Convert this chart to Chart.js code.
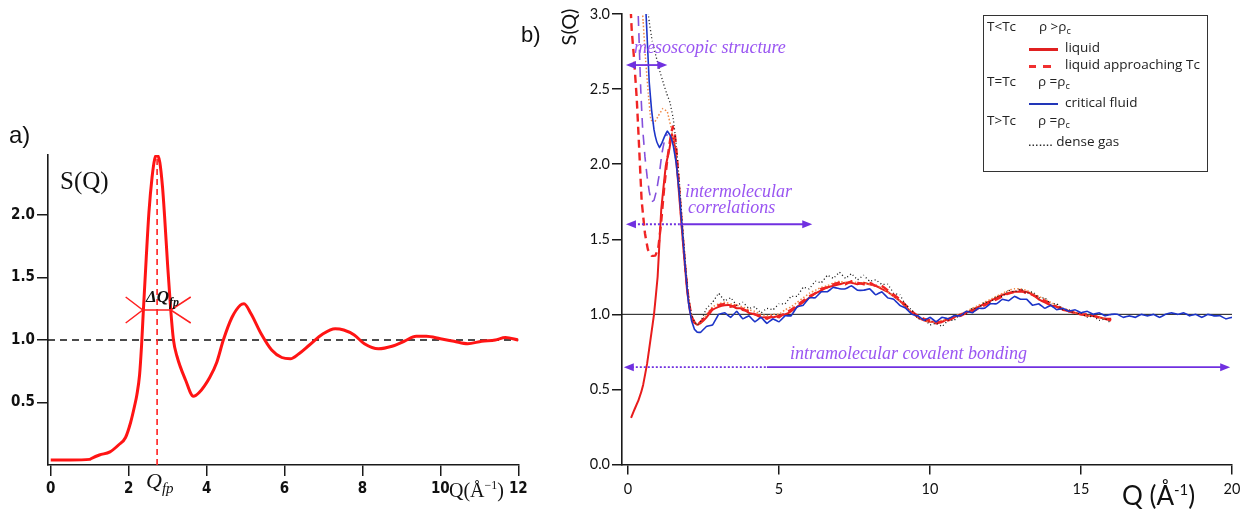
<!DOCTYPE html>
<html>
<head>
<meta charset="utf-8">
<title>S(Q)</title>
<script src="https://cdn.jsdelivr.net/npm/chart.js@4.4.0/dist/chart.umd.min.js"></script>
<style>
  body { margin: 0; background: #fff; }
  #wrap { position: relative; width: 1260px; height: 514px; overflow: hidden; background: #fff; }
  canvas { position: absolute; top: 0; }
  #panelA { left: 0; }
  #panelB { left: 540px; }
  .t { position: absolute; white-space: nowrap; line-height: 1; color: #111; }
  .serif { font-family: 'Liberation Serif', 'DejaVu Serif', serif; }
  .sans { font-family: Lato, 'Liberation Sans', sans-serif; }
  .note { font-family: 'Liberation Serif', serif; font-style: italic; color: #9a55f2; font-size: 18px; }
  .leg { position: absolute; white-space: nowrap; line-height: 1; font-family: 'Open Sans', 'DejaVu Sans', sans-serif; font-size: 13.5px; color: #222; }
  .leg sub { font-size: 9px; vertical-align: -3px; }
  #legendBox { position: absolute; left: 983px; top: 15px; width: 225px; height: 157px; box-sizing: border-box; border: 1.5px solid #333; }
  .swatch { position: absolute; height: 0; }
</style>
</head>
<body>
<div id="wrap">
  <canvas id="panelA" width="540" height="514"></canvas>
  <canvas id="panelB" width="720" height="514"></canvas>

  <!-- panel a labels -->
  <div class="t" style="left:9px; top:123px; font-family:'Liberation Sans', sans-serif; font-size:24px;">a)</div>
  <div class="t serif" style="left:60px; top:168px; font-size:25px;">S(Q)</div>
  <div class="t serif" style="left:146px; top:288px; font-size:17px; font-style:italic; font-weight:bold;">ΔQ<sub style="font-size:12px;">fp</sub></div>
  <div class="t serif" style="left:146px; top:470px; font-size:22px; font-style:italic;">Q<sub style="font-size:15px;">fp</sub></div>
  <div class="t serif" style="left:449px; top:479px; font-size:20px;">Q(Å<sup style="font-size:12px;">−1</sup>)</div>

  <!-- panel b labels -->
  <div class="t" style="left:521px; top:24px; font-family:'Liberation Sans', sans-serif; font-size:22px;">b)</div>
  <div class="t sans" style="left:568px; top:27px; font-size:20px; transform:translate(-50%,-50%) rotate(-90deg);">S(Q)</div>
  <div class="t sans" style="left:1122px; top:482px; font-size:26px;">Q (Å<sup style="font-size:15px;">-1</sup>)</div>
  <div class="t note" style="left:634px; top:38px;">mesoscopic structure</div>
  <div class="t note" style="left:685px; top:182px;">intermolecular</div>
  <div class="t note" style="left:688px; top:198px;">correlations</div>
  <div class="t note" style="left:790px; top:344px;">intramolecular covalent bonding</div>

  <!-- panel b legend -->
  <div id="legendBox"></div>
  <div class="leg" style="left:987px; top:20px;">T&lt;Tc</div>
  <div class="leg" style="left:1039px; top:20px;">ρ &gt;ρ<sub>c</sub></div>
  <div class="swatch" style="left:1029px; top:48px; width:29px; border-top:3px solid #e02020;"></div>
  <div class="leg" style="left:1065px; top:41px;">liquid</div>
  <div class="swatch" style="left:1029px; top:65px; width:7px; border-top:3px solid #f03030;"></div>
  <div class="swatch" style="left:1043px; top:65px; width:8px; border-top:3px solid #f03030;"></div>
  <div class="leg" style="left:1065px; top:58px;">liquid approaching Tc</div>
  <div class="leg" style="left:987px; top:75px;">T=Tc</div>
  <div class="leg" style="left:1038px; top:75px;">ρ =ρ<sub>c</sub></div>
  <div class="swatch" style="left:1029px; top:103px; width:29px; border-top:2px solid #2236b8;"></div>
  <div class="leg" style="left:1065px; top:96px;">critical fluid</div>
  <div class="leg" style="left:987px; top:114px;">T&gt;Tc</div>
  <div class="leg" style="left:1038px; top:114px;">ρ =ρ<sub>c</sub></div>
  <div class="leg" style="left:1028px; top:135px;">....... dense gas</div>
</div>

<script>
// ---- panel (a): model structure factor of a simple liquid ----
const qModel = [0, 0.5, 1.0, 1.03, 1.25, 1.52, 1.74, 1.92, 2.05, 2.15, 2.21, 2.28, 2.33, 2.38, 2.45, 2.52, 2.6, 2.67, 2.73, 2.8, 2.87, 2.92, 3.0, 3.08, 3.15, 3.24, 3.46, 3.66, 3.81, 4.08, 4.26, 4.43, 4.65, 4.87, 4.96, 5.14, 5.4, 5.67, 5.93, 6.15, 6.37, 6.64, 6.99, 7.3, 7.52, 7.79, 8.05, 8.41, 8.76, 9.07, 9.38, 9.64, 10.0, 10.35, 10.7, 11.06, 11.41, 11.67, 12.0];
const sModel = [0.04, 0.04, 0.045, 0.05, 0.08, 0.105, 0.16, 0.22, 0.34, 0.47, 0.56, 0.72, 0.95, 1.25, 1.65, 2.02, 2.3, 2.45, 2.48, 2.42, 2.22, 2.0, 1.6, 1.24, 1.0, 0.87, 0.68, 0.55, 0.58, 0.7, 0.82, 1.0, 1.18, 1.28, 1.29, 1.21, 1.05, 0.92, 0.86, 0.85, 0.89, 0.96, 1.05, 1.09, 1.08, 1.04, 0.97, 0.93, 0.95, 0.99, 1.03, 1.03, 1.01, 0.99, 0.97, 0.99, 1.0, 1.02, 1.0];
const qFirstPeak = 2.73;        // position of the first sharp peak
const peakTop = 2.45;
const widthQ = [2.36, 3.08];    // half-height width of the first peak
const widthS = 1.24;
const xTicksA = [0, 2, 4, 6, 8, 10, 12];
const yTicksA = [0.5, 1.0, 1.5, 2.0];

// ---- panel (b): measured S(Q) across the critical point ----
const qTail = [2.4, 2.6, 2.8, 3.0, 3.2, 3.4, 3.6, 3.8, 4.0, 4.2, 4.4, 4.6, 4.8, 5.0, 5.2, 5.4, 5.6, 5.8, 6.0, 6.2, 6.4, 6.6, 6.8, 7.0, 7.2, 7.4, 7.6, 7.8, 8.0, 8.2, 8.4, 8.6, 8.8, 9.0, 9.2, 9.4, 9.6, 9.8, 10.0, 10.2, 10.4, 10.6, 10.8, 11.0, 11.2, 11.4, 11.6, 11.8, 12.0, 12.2, 12.4, 12.6, 12.8, 13.0, 13.2, 13.4, 13.6, 13.8, 14.0, 14.2, 14.4, 14.6, 14.8, 15.0, 15.2, 15.4, 15.6, 15.8, 16.0];
const qFar = [16.2, 16.4, 16.6, 16.8, 17.0, 17.2, 17.4, 17.6, 17.8, 18.0, 18.2, 18.4, 18.6, 18.8, 19.0, 19.2, 19.4, 19.6, 19.8, 20.0];

const qLiquidHead = [0.1, 0.2, 0.35, 0.5, 0.63, 0.77, 0.86, 0.98, 1.1, 1.25, 1.37, 1.45, 1.55, 1.65, 1.75, 1.85, 1.95, 2.05, 2.15, 2.3];
const sLiquidHead = [0.31, 0.36, 0.43, 0.53, 0.67, 0.87, 1.0, 1.25, 1.7, 1.99, 2.1, 2.2, 2.12, 1.9, 1.65, 1.4, 1.17, 1.02, 0.95, 0.93];
const sLiquidTail = [0.94, 0.98, 1.03, 1.05, 1.06, 1.06, 1.04, 1.04, 1.01, 1.00, 0.98, 0.98, 0.98, 0.99, 1.00, 1.02, 1.05, 1.08, 1.11, 1.14, 1.16, 1.18, 1.19, 1.20, 1.21, 1.21, 1.20, 1.21, 1.20, 1.19, 1.17, 1.15, 1.12, 1.09, 1.05, 1.01, 0.98, 0.96, 0.95, 0.95, 0.95, 0.97, 0.98, 1.00, 1.01, 1.03, 1.05, 1.07, 1.09, 1.11, 1.13, 1.14, 1.15, 1.15, 1.15, 1.13, 1.10, 1.08, 1.06, 1.05, 1.03, 1.02, 1.01, 1.00, 0.99, 0.99, 0.98, 0.97, 0.97];

const qNearTcHead = [0.05, 0.12, 0.2, 0.29, 0.37, 0.45, 0.56, 0.66, 0.78, 0.9, 1.0, 1.1, 1.2, 1.3, 1.4, 1.48, 1.55, 1.62, 1.7, 1.8, 1.9, 2.0, 2.1, 2.2, 2.3];
const sNearTcHead = [3.2, 2.9, 2.7, 2.43, 2.1, 1.76, 1.54, 1.43, 1.39, 1.39, 1.44, 1.62, 1.85, 2.03, 2.17, 2.25, 2.2, 2.05, 1.82, 1.55, 1.3, 1.1, 0.99, 0.95, 0.93];
const sNearTcTail = [0.95, 0.99, 1.04, 1.06, 1.07, 1.05, 1.06, 1.03, 1.02, 1.00, 0.99, 0.97, 0.99, 0.98, 1.01, 1.03, 1.06, 1.09, 1.12, 1.14, 1.17, 1.18, 1.20, 1.21, 1.20, 1.22, 1.21, 1.20, 1.21, 1.19, 1.19, 1.16, 1.13, 1.10, 1.06, 1.02, 0.99, 0.97, 0.96, 0.94, 0.95, 0.96, 0.98, 0.99, 1.01, 1.02, 1.04, 1.06, 1.08, 1.10, 1.12, 1.14, 1.15, 1.16, 1.14, 1.13, 1.11, 1.09, 1.07, 1.05, 1.04, 1.02, 1.01, 1.00, 1.00, 0.99, 0.98, 0.97, 0.96];

const qCriticalHead = [0.55, 0.62, 0.7, 0.78, 0.86, 0.95, 1.04, 1.12, 1.2, 1.3, 1.4, 1.5, 1.6, 1.7, 1.8, 1.9, 2.0, 2.1, 2.2, 2.3];
const sCriticalHead = [3.2, 2.9, 2.55, 2.36, 2.23, 2.15, 2.11, 2.14, 2.18, 2.22, 2.19, 2.12, 2.0, 1.8, 1.55, 1.3, 1.08, 0.96, 0.9, 0.88];
const sCriticalTail = [0.88, 0.92, 0.93, 1.00, 1.01, 0.98, 1.02, 0.97, 0.99, 0.95, 0.98, 0.94, 0.97, 0.95, 0.99, 0.99, 1.05, 1.06, 1.11, 1.11, 1.15, 1.15, 1.18, 1.17, 1.17, 1.19, 1.16, 1.16, 1.17, 1.13, 1.15, 1.11, 1.10, 1.06, 1.04, 1.00, 0.99, 0.96, 0.98, 0.95, 0.98, 0.97, 0.99, 0.99, 1.02, 1.01, 1.04, 1.04, 1.07, 1.07, 1.10, 1.09, 1.12, 1.10, 1.10, 1.06, 1.07, 1.04, 1.06, 1.03, 1.04, 1.02, 1.03, 1.01, 1.02, 1.00, 1.01, 0.99, 1.00];
const sCriticalFar = [1.00, 0.98, 0.99, 0.98, 1.00, 0.99, 1.00, 0.98, 1.00, 1.01, 1.00, 1.01, 0.99, 1.00, 0.98, 1.00, 0.99, 0.99, 0.97, 0.98];

const qDenseGasHead = [0.62, 0.7, 0.8, 0.95, 1.05, 1.17, 1.28, 1.39, 1.5, 1.6, 1.7, 1.8, 1.9, 2.0, 2.1, 2.2, 2.3];
const sDenseGasHead = [3.1, 2.95, 2.82, 2.7, 2.62, 2.54, 2.47, 2.41, 2.3, 2.12, 1.88, 1.6, 1.33, 1.12, 1.0, 0.95, 0.93];
const sDenseGasTail = [0.95, 1.04, 1.08, 1.14, 1.09, 1.11, 1.06, 1.08, 1.04, 1.05, 1.01, 1.04, 1.03, 1.07, 1.07, 1.12, 1.12, 1.18, 1.17, 1.22, 1.21, 1.26, 1.24, 1.28, 1.24, 1.27, 1.23, 1.26, 1.22, 1.23, 1.20, 1.20, 1.14, 1.13, 1.06, 1.03, 0.97, 0.97, 0.93, 0.94, 0.92, 0.96, 0.96, 1.00, 1.00, 1.04, 1.04, 1.08, 1.08, 1.12, 1.12, 1.16, 1.15, 1.17, 1.14, 1.15, 1.11, 1.11, 1.07, 1.07, 1.03, 1.03, 1.00, 1.01, 0.98, 0.99, 0.96, 0.97, 0.94];

const qOrangeHead = [0.42, 0.5, 0.58, 0.67, 0.75, 0.85, 1.0, 1.15, 1.3, 1.45, 1.6, 1.72, 1.85, 1.95, 2.05, 2.15, 2.3];
const sOrangeHead = [3.2, 2.95, 2.7, 2.47, 2.3, 2.27, 2.32, 2.37, 2.35, 2.22, 2.0, 1.75, 1.45, 1.22, 1.05, 0.96, 0.93];
const sOrangeTail = [0.94, 1.00, 1.05, 1.07, 1.08, 1.07, 1.06, 1.05, 1.03, 1.02, 1.00, 0.99, 1.00, 1.00, 1.03, 1.05, 1.08, 1.11, 1.14, 1.16, 1.18, 1.19, 1.21, 1.22, 1.21, 1.22, 1.21, 1.21, 1.20, 1.19, 1.18, 1.15, 1.12, 1.09, 1.05, 1.01, 0.98, 0.96, 0.95, 0.95, 0.96, 0.97, 0.99, 1.00, 1.02, 1.04, 1.06, 1.08, 1.10, 1.12, 1.14, 1.16, 1.17, 1.17, 1.16, 1.14, 1.12, 1.10, 1.08, 1.06, 1.04, 1.03, 1.01, 1.00, 0.99, 0.99, 0.98, 0.97, 0.96];

const qPurple = [0.32, 0.37, 0.42, 0.48, 0.56, 0.63, 0.7, 0.78, 0.86, 0.95, 1.04, 1.12, 1.2, 1.3];
const sPurple = [3.1, 2.8, 2.5, 2.25, 2.05, 1.92, 1.82, 1.75, 1.76, 1.83, 1.94, 2.07, 2.15, 2.2];

const xTicksB = [0, 5, 10, 15, 20];
const yTicksB = [0, 0.5, 1.0, 1.5, 2.0, 2.5, 3.0];

// Q ranges probed by each length scale: [S level, from Q, to Q, dotted up to Q]
const ranges = [
    [2.66, -0.07, 1.3, -0.07],
    [1.6, -0.07, 6.1, 1.7],
    [0.648, -0.14, 19.94, 4.6]
];

const pts = (qs, ss) => qs.map((q, i) => ({ x: q, y: ss[i] }));

const tickFontA = { family: "'Liberation Sans Narrow', 'DejaVu Sans Condensed', sans-serif", size: 15, weight: 'bold' };
const tickFontB = { family: "Lato, 'Open Sans', sans-serif", size: 14.5 };

function fixedTicks(values) {
    return scale => { scale.ticks = values.map(v => ({ value: v })); };
}

function axis(min, max, ticks, size, tickLength, padding, font, fmt) {
    return {
        type: 'linear',
        min, max,
        afterBuildTicks: fixedTicks(ticks),
        afterFit: scale => {
            if (scale.isHorizontal()) scale.height = size; else scale.width = size;
        },
        grid: { drawOnChartArea: false, drawTicks: true, tickLength, color: '#1a1a1a', lineWidth: 1.5 },
        border: { display: true, color: '#1a1a1a', width: 1.6 },
        ticks: { padding, color: '#111', font, autoSkip: false, maxRotation: 0, callback: fmt }
    };
}

// dashed S=1 line, peak position and width marker
const panelAMarks = {
    id: 'panelAMarks',
    beforeDatasetsDraw(chart) {
        const { ctx, chartArea, scales: { y } } = chart;
        const y1 = y.getPixelForValue(1);
        ctx.save();
        ctx.strokeStyle = '#111';
        ctx.lineWidth = 1.6;
        ctx.setLineDash([7, 5]);
        ctx.beginPath();
        ctx.moveTo(chartArea.left, y1);
        ctx.lineTo(chartArea.right, y1);
        ctx.stroke();
        ctx.restore();
    },
    afterDatasetsDraw(chart) {
        const { ctx, scales: { x, y } } = chart;
        ctx.save();
        ctx.strokeStyle = '#ff2020';
        ctx.lineWidth = 1.6;
        ctx.setLineDash([6, 4]);
        const xp = x.getPixelForValue(qFirstPeak);
        ctx.beginPath();
        ctx.moveTo(xp, y.getPixelForValue(0));
        ctx.lineTo(xp, y.getPixelForValue(peakTop));
        ctx.stroke();

        ctx.setLineDash([]);
        ctx.lineWidth = 1.5;
        const xl = x.getPixelForValue(widthQ[0]);
        const xr = x.getPixelForValue(widthQ[1]);
        const ym = y.getPixelForValue(widthS);
        const wing = 17, spread = 13;
        ctx.beginPath();
        ctx.moveTo(xl, ym); ctx.lineTo(xr, ym);
        ctx.moveTo(xl - wing, ym - spread); ctx.lineTo(xl, ym); ctx.lineTo(xl - wing, ym + spread);
        ctx.moveTo(xr + wing + 3, ym - spread); ctx.lineTo(xr, ym); ctx.lineTo(xr + wing + 3, ym + spread);
        ctx.stroke();
        ctx.restore();
    }
};

function arrowHead(ctx, xTip, yc, dir) {
    ctx.beginPath();
    ctx.moveTo(xTip, yc);
    ctx.lineTo(xTip - dir * 10, yc - 4);
    ctx.lineTo(xTip - dir * 10, yc + 4);
    ctx.closePath();
    ctx.fill();
}

// S=1 reference line and the length-scale arrows
const panelBMarks = {
    id: 'panelBMarks',
    beforeDatasetsDraw(chart) {
        const { ctx, chartArea, scales: { y } } = chart;
        const y1 = y.getPixelForValue(1);
        ctx.save();
        ctx.strokeStyle = '#111';
        ctx.lineWidth = 1;
        ctx.beginPath();
        ctx.moveTo(chartArea.left, y1);
        ctx.lineTo(chartArea.right, y1);
        ctx.stroke();
        ctx.restore();
    },
    afterDatasetsDraw(chart) {
        const { ctx, scales: { x, y } } = chart;
        ctx.save();
        ctx.strokeStyle = '#7030e0';
        ctx.fillStyle = '#7030e0';
        ctx.lineWidth = 1.8;
        ranges.forEach(([s, from, to, dotTo]) => {
            const yc = y.getPixelForValue(s);
            const x1 = x.getPixelForValue(from);
            const x2 = x.getPixelForValue(to);
            const xd = Math.max(x.getPixelForValue(dotTo), x1 + 8);
            if (xd > x1 + 8) {
                ctx.setLineDash([2, 2]);
                ctx.beginPath(); ctx.moveTo(x1 + 8, yc); ctx.lineTo(xd, yc); ctx.stroke();
            }
            ctx.setLineDash([]);
            ctx.beginPath(); ctx.moveTo(xd, yc); ctx.lineTo(x2 - 8, yc); ctx.stroke();
            arrowHead(ctx, x1, yc, -1);
            arrowHead(ctx, x2, yc, 1);
        });
        ctx.restore();
    }
};

new Chart(document.getElementById('panelA'), {
    type: 'line',
    data: {
        datasets: [{
            data: pts(qModel, sModel),
            borderColor: '#ff1414',
            borderWidth: 3,
            pointRadius: 0,
            cubicInterpolationMode: 'monotone'
        }]
    },
    options: {
        responsive: false,
        animation: false,
        layout: { padding: { left: 0, right: 21.7, top: 155, bottom: 0 } },
        plugins: { legend: { display: false }, tooltip: { enabled: false } },
        scales: {
            x: axis(-0.07, 12, xTicksA, 49, 11, 4, tickFontA, v => v),
            y: axis(0, 2.48, yTicksA, 48, 11, 2, tickFontA, v => v.toFixed(1))
        }
    },
    plugins: [panelAMarks]
});

const lineB = (data, color, width, dash) => ({
    data, borderColor: color, borderWidth: width, borderDash: dash || [],
    pointRadius: 0, tension: 0.05, fill: false
});

new Chart(document.getElementById('panelB'), {
    type: 'line',
    data: {
        datasets: [
            lineB(pts(qCriticalHead.concat(qTail, qFar), sCriticalHead.concat(sCriticalTail, sCriticalFar)), '#1c34c8', 1.6),
            lineB(pts(qDenseGasHead.concat(qTail), sDenseGasHead.concat(sDenseGasTail)), '#1a1a1a', 1.3, [1, 2.5]),
            lineB(pts(qNearTcHead.concat(qTail), sNearTcHead.concat(sNearTcTail)), '#f02424', 2.4, [8, 5]),
            lineB(pts(qOrangeHead.concat(qTail), sOrangeHead.concat(sOrangeTail)), '#f08a48', 1.5, [1.5, 2]),
            lineB(pts(qPurple, sPurple), '#8450dc', 1.6, [10, 7]),
            lineB(pts(qLiquidHead.concat(qTail), sLiquidHead.concat(sLiquidTail)), '#e81c1c', 2)
        ]
    },
    options: {
        responsive: false,
        animation: false,
        layout: { padding: { left: 0, right: 28, top: 14, bottom: 0 } },
        plugins: { legend: { display: false }, tooltip: { enabled: false } },
        scales: {
            x: axis(-0.2, 20, xTicksB, 49.5, 10, 6, tickFontB, v => v),
            y: axis(0, 3, yTicksB, 82, 10, 2, tickFontB, v => v.toFixed(1))
        }
    },
    plugins: [panelBMarks]
});
</script>
</body>
</html>
